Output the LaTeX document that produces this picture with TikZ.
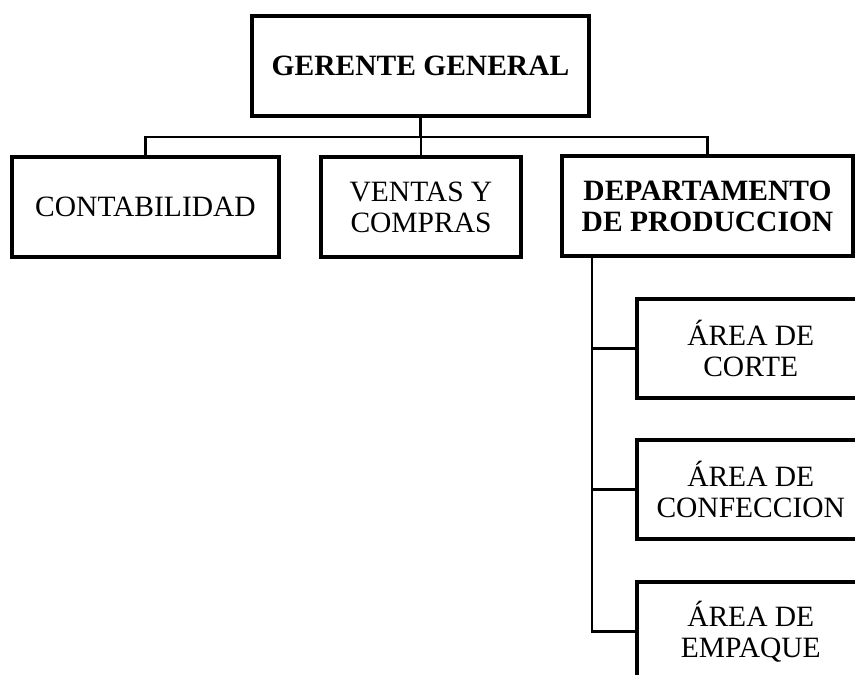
\documentclass[tikz,border=0pt]{standalone}
\usepackage{fontspec}
\setmainfont{Liberation Serif}
\usetikzlibrary{positioning}
\tikzstyle{box} = [draw, rectangle, line width=3.5pt, minimum height=100pt, inner sep=0pt, align=center, font=\fontsize{29.5}{31}\selectfont]
\tikzstyle{head} = [box, font=\fontsize{29.5}{31}\selectfont\bfseries]
\tikzstyle{area} = [box, minimum width=228pt, minimum height=99pt, anchor=west]
\tikzstyle{link} = [line width=2.5pt]
\tikzstyle{branch} = [line width=2.2pt]

\begin{document}
\begin{tikzpicture}[x=1pt, y=-1pt]
    \useasboundingbox (0,0) rectangle (855,675);
    \clip (0,0) rectangle (855,675);

    % Top level.
    \node (gerente) [head, minimum width=337pt] at (420.5,66) {GERENTE GENERAL};

    % Departments.
    \node (conta) [box, minimum width=267pt] at (145.5,207) {CONTABILIDAD};
    \node (ventas) [box, minimum width=200pt] at (421,207) {VENTAS Y\\COMPRAS};
    \node (prod) [head, minimum width=291pt] at (707.5,206) {DEPARTAMENTO\\DE PRODUCCION};

    % Production areas.
    \node (corte) [area] at (635,348.5) {ÁREA DE\\CORTE};
    \node (confe) [area, below=38.5pt of corte.south west, anchor=north west] {ÁREA DE\\CONFECCION};
    \node (empaque) [area, below=39.5pt of confe.south west, anchor=north west] {ÁREA DE\\EMPAQUE};

    % Lines.
    \coordinate (bar) at (420.5,137);
    \coordinate (spine) at (592,0 |- prod.south);

    \draw [link] (gerente.south) -- (bar);
    \foreach \d in {conta, ventas, prod} {
        \draw [link] (bar) -| (\d.north);
    }

    \foreach \a in {corte, confe, empaque} {
        \draw [branch] (spine) |- (\a.west);
    }
\end{tikzpicture}
\end{document}
